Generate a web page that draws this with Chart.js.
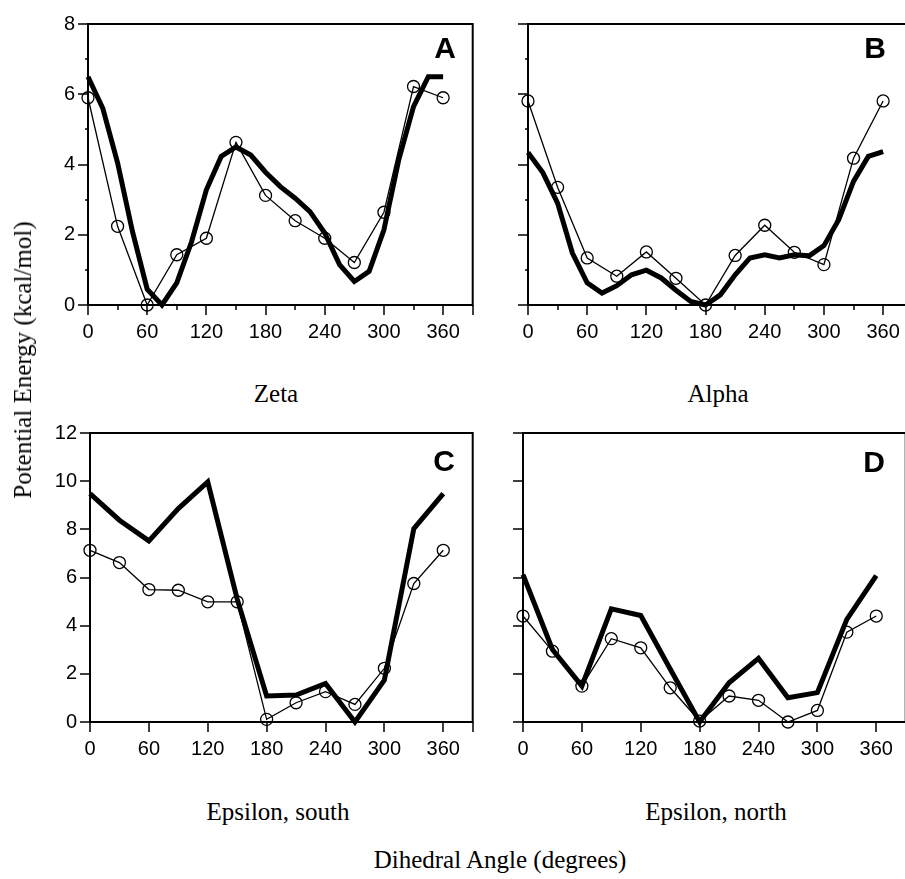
<!DOCTYPE html>
<html>
<head>
<meta charset="utf-8">
<script src="https://cdn.jsdelivr.net/npm/chart.js@4.4.1/dist/chart.umd.min.js"></script>
<style>
  html, body { margin: 0; padding: 0; background: #fff; overflow: hidden; }
  #page { position: relative; width: 905px; height: 879px; overflow: hidden; }
  canvas { position: absolute; }
  .lbl { position: absolute; transform: translate(-50%, -50%); white-space: nowrap; color: #000; }
  .serif { font-family: "Liberation Serif", "Times New Roman", serif; font-size: 25px; }
  .letter { font-family: "Liberation Sans", Arial, sans-serif; font-weight: bold; font-size: 30px; }
</style>
</head>
<body>
<div id="page">
  <canvas id="chart-a" width="480" height="350" style="left:0;top:0"></canvas>
  <canvas id="chart-b" width="480" height="350" style="left:440px;top:0"></canvas>
  <canvas id="chart-c" width="480" height="350" style="left:0;top:410px"></canvas>
  <canvas id="chart-d" width="480" height="350" style="left:433px;top:410px"></canvas>

  <div class="lbl letter" style="left:445px;top:48px">A</div>
  <div class="lbl letter" style="left:875px;top:48px">B</div>
  <div class="lbl letter" style="left:444px;top:461px">C</div>
  <div class="lbl letter" style="left:874px;top:462px">D</div>

  <div class="lbl serif" style="left:276px;top:394px">Zeta</div>
  <div class="lbl serif" style="left:718px;top:394px">Alpha</div>
  <div class="lbl serif" style="left:278px;top:812px">Epsilon, south</div>
  <div class="lbl serif" style="left:716px;top:812px">Epsilon, north</div>
  <div class="lbl serif" style="left:500px;top:860px">Dihedral Angle (degrees)</div>
  <div class="lbl serif" style="left:23px;top:360px;transform:translate(-50%,-50%) rotate(-90deg)">Potential Energy (kcal/mol)</div>
</div>
<script>
// angles (degrees)
const angles15 = [0, 15, 30, 45, 60, 75, 90, 105, 120, 135, 150, 165, 180, 195, 210, 225, 240, 255, 270, 285, 300, 315, 330, 345, 360];
const angles30 = [0, 30, 60, 90, 120, 150, 180, 210, 240, 270, 300, 330, 360];

// tick labels
const xLabelValues = [0, 60, 120, 180, 240, 300, 360];
const yLabelsTop = [0, 2, 4, 6, 8];
const yLabelsBottom = [0, 2, 4, 6, 8, 10, 12];

// A - zeta
const zetaThick = [6.5, 5.6, 4.05, 2.1, 0.45, 0, 0.63, 1.8, 3.28, 4.23, 4.5, 4.27, 3.78, 3.37, 3.04, 2.66, 2.05, 1.15, 0.67, 0.96, 2.14, 4.13, 5.65, 6.5, 6.5];
const zetaCircles = [5.9, 2.24, 0, 1.43, 1.9, 4.63, 3.12, 2.4, 1.9, 1.21, 2.64, 6.22, 5.9];

// B - alpha
const alphaThick = [4.34, 3.77, 2.9, 1.48, 0.63, 0.34, 0.55, 0.86, 0.99, 0.77, 0.42, 0.1, 0, 0.29, 0.86, 1.34, 1.43, 1.34, 1.43, 1.4, 1.69, 2.43, 3.52, 4.23, 4.37];
const alphaCircles = [5.81, 3.35, 1.34, 0.82, 1.51, 0.76, 0, 1.41, 2.27, 1.5, 1.15, 4.18, 5.81];

// C - epsilon, south
const epsSouthThick = [9.48, 8.38, 7.52, 8.86, 9.97, 5.1, 1.08, 1.12, 1.6, 0, 1.74, 8.03, 9.48];
const epsSouthCircles = [7.13, 6.62, 5.5, 5.47, 4.99, 4.99, 0.11, 0.8, 1.26, 0.73, 2.23, 5.75, 7.13];

// D - epsilon, north
const epsNorthThick = [6.12, 3.01, 1.49, 4.7, 4.42, 2.2, 0, 1.63, 2.64, 1.01, 1.22, 4.26, 6.08];
const epsNorthCircles = [4.4, 2.94, 1.49, 3.46, 3.08, 1.42, 0.04, 1.08, 0.9, 0, 0.48, 3.73, 4.4];

// frame, axis lines and tick marks drawn from the scales
const framePlugin = {
  id: 'frame',
  beforeDatasetsDraw(chart, args, opts) {
    const { ctx, chartArea: a, scales: { x, y } } = chart;
    ctx.save();
    ctx.strokeStyle = '#000';
    ctx.lineWidth = 2;
    ctx.strokeRect(a.left, a.top, a.right - a.left, a.bottom - a.top);

    ctx.lineWidth = 1.5;
    ctx.beginPath();
    y.ticks.forEach(t => {
      const major = opts.yLabels.includes(t.value);
      if (!major && !opts.minor) return;
      const py = Math.round(y.getPixelForValue(t.value));
      ctx.moveTo(a.left - (major ? 10 : 3), py);
      ctx.lineTo(a.left, py);
    });
    x.ticks.forEach(t => {
      const major = xLabelValues.includes(t.value) || t.value === x.max;
      if (!major && !opts.minor) return;
      const px = Math.round(x.getPixelForValue(t.value));
      ctx.moveTo(px, a.bottom);
      ctx.lineTo(px, a.bottom + (major ? 10 : 5));
    });
    ctx.stroke();
    ctx.restore();
  }
};

function toPoints(xs, ys) {
  return xs.map((v, i) => ({ x: v, y: ys[i] }));
}

function makePanel(id, thickX, thickY, circleY, cfg) {
  const tickFont = { family: '"Liberation Sans", Arial, sans-serif', size: 20 };
  return new Chart(document.getElementById(id), {
    type: 'line',
    data: {
      datasets: [
        {
          data: toPoints(angles30, circleY),
          borderColor: '#000',
          borderWidth: 1.3,
          pointRadius: 6,
          pointBorderWidth: 1.3,
          pointBorderColor: '#000',
          pointBackgroundColor: 'rgba(0,0,0,0)',
          tension: 0,
          clip: false
        },
        {
          data: toPoints(thickX, thickY),
          borderColor: '#000',
          borderWidth: 5,
          borderJoinStyle: 'miter',
          pointRadius: 0,
          tension: 0,
          clip: false
        }
      ]
    },
    options: {
      responsive: false,
      animation: false,
      events: [],
      layout: { padding: { top: cfg.top, right: cfg.right, left: 0, bottom: 0 } },
      plugins: {
        legend: { display: false },
        tooltip: { enabled: false },
        frame: { minor: cfg.minor, yLabels: cfg.yLabels }
      },
      scales: {
        x: {
          type: 'linear',
          min: 0,
          max: 390,
          border: { display: false },
          grid: { display: false, drawTicks: false },
          ticks: {
            stepSize: 30,
            autoSkip: false,
            maxRotation: 0,
            padding: 15,
            color: '#000',
            font: tickFont,
            callback: v => xLabelValues.includes(v) ? String(v) : ''
          },
          afterFit: s => {
            s.height = cfg.xHeight;
            s.paddingLeft = 0;
            s.paddingRight = 0;
          }
        },
        y: {
          min: 0,
          max: cfg.yMax,
          border: { display: false },
          grid: { display: false, drawTicks: false },
          ticks: {
            stepSize: cfg.yStep,
            autoSkip: false,
            padding: 13,
            color: '#000',
            font: tickFont,
            callback: v => cfg.showY && cfg.yLabels.includes(v) ? String(v) : ''
          },
          afterFit: s => {
            s.width = cfg.yWidth;
            s.paddingTop = 0;
            s.paddingBottom = 0;
          }
        }
      }
    },
    plugins: [framePlugin]
  });
}

const topCfg = { top: 24, right: 6, xHeight: 45, yWidth: 88, yMax: 8, yStep: 1, yLabels: yLabelsTop, minor: true };
const bottomCfg = { top: 23, right: 5, xHeight: 38, yWidth: 90, yMax: 12, yStep: 2, yLabels: yLabelsBottom, minor: false };

makePanel('chart-a', angles15, zetaThick, zetaCircles, { ...topCfg, showY: true });
makePanel('chart-b', angles15, alphaThick, alphaCircles, { ...topCfg, showY: false });
makePanel('chart-c', angles30, epsSouthThick, epsSouthCircles, { ...bottomCfg, showY: true });
makePanel('chart-d', angles30, epsNorthThick, epsNorthCircles, { ...bottomCfg, showY: false });
</script>
</body>
</html>
